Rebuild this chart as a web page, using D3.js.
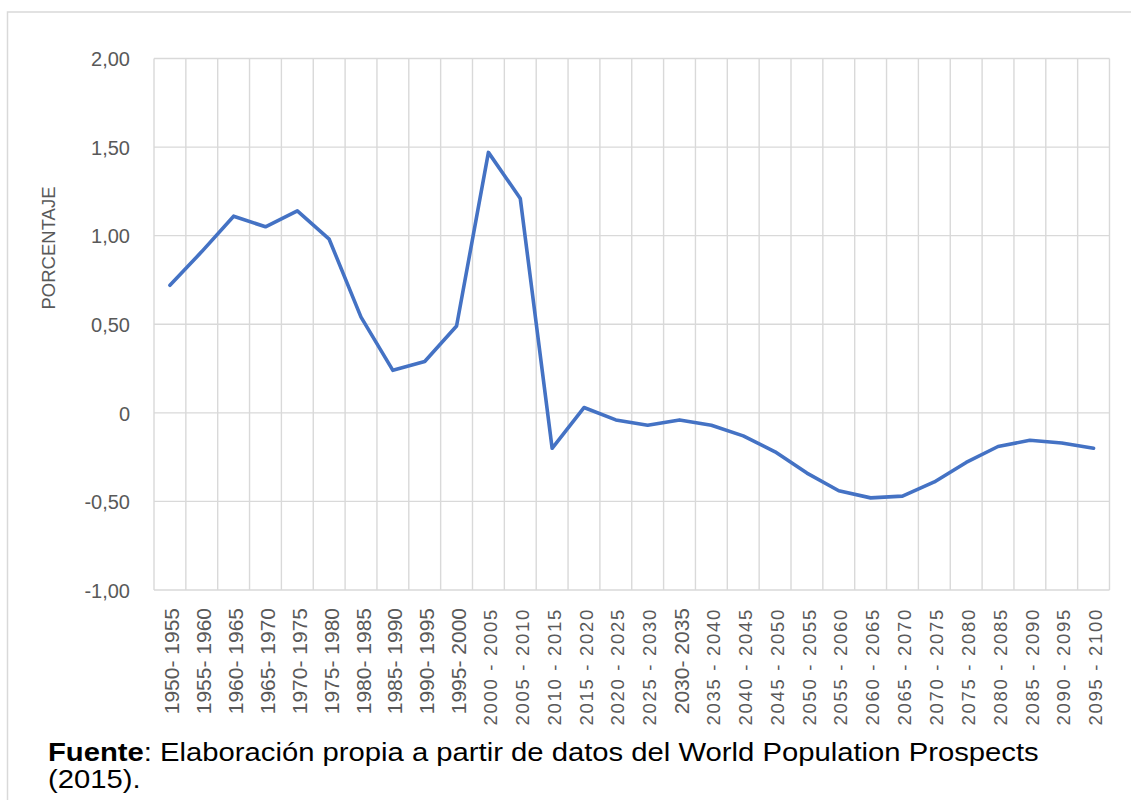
<!DOCTYPE html>
<html>
<head>
<meta charset="utf-8">
<script src="https://cdn.jsdelivr.net/npm/d3@7"></script>
<style>
  html, body { margin: 0; padding: 0; background: #ffffff; }
  svg { display: block; }
</style>
</head>
<body>
<svg id="chart" width="1131" height="800"></svg>
<script>
// Five-year periods shown on the category axis
const periods = [
  "1950- 1955", "1955- 1960", "1960- 1965", "1965- 1970", "1970- 1975",
  "1975- 1980", "1980- 1985", "1985- 1990", "1990- 1995", "1995- 2000",
  "2000 - 2005", "2005 - 2010", "2010 - 2015", "2015 - 2020", "2020 - 2025",
  "2025 - 2030", "2030- 2035", "2035 - 2040", "2040 - 2045", "2045 - 2050",
  "2050 - 2055", "2055 - 2060", "2060 - 2065", "2065 - 2070", "2070 - 2075",
  "2075 - 2080", "2080 - 2085", "2085 - 2090", "2090 - 2095", "2095 - 2100"
];

// Annual rate (percentage) for each period
const rates = [
  0.72, 0.91, 1.11, 1.05, 1.14,
  0.98, 0.54, 0.24, 0.29, 0.49,
  1.47, 1.21, -0.20, 0.03, -0.04,
  -0.07, -0.04, -0.07, -0.13, -0.22,
  -0.34, -0.44, -0.48, -0.47, -0.39,
  -0.28, -0.19, -0.155, -0.17, -0.20
];

// Value-axis ticks and their printed labels
const yTickValues = [-1, -0.5, 0, 0.5, 1, 1.5, 2];
const yTickLabels = ["-1,00", "-0,50", "0", "0,50", "1,00", "1,50", "2,00"];

const svg = d3.select("#chart");
const plot = { left: 154, right: 1109.5, top: 58.5, bottom: 590 };
const font = "'Liberation Sans', Arial, sans-serif";

// Outer chart frame
svg.append("rect")
  .attr("x", 7.5).attr("y", 12)
  .attr("width", 1140).attr("height", 820)
  .attr("fill", "none")
  .attr("stroke", "#d9d9d9")
  .attr("stroke-width", 1.5);

const x = d3.scaleBand()
  .domain(periods)
  .range([plot.left, plot.right])
  .padding(0);

const y = d3.scaleLinear()
  .domain([-1, 2])
  .range([plot.bottom, plot.top]);

const grid = svg.append("g").attr("class", "grid");

// Horizontal gridlines
grid.selectAll("line.h")
  .data(yTickValues)
  .join("line")
  .attr("class", "h")
  .attr("x1", plot.left).attr("x2", plot.right)
  .attr("y1", d => y(d)).attr("y2", d => y(d))
  .attr("stroke", "#d9d9d9")
  .attr("stroke-width", 1.4);

// Vertical gridlines at category boundaries
const boundaries = periods.map(p => x(p)).concat([x(periods[periods.length - 1]) + x.bandwidth()]);
grid.selectAll("line.v")
  .data(boundaries)
  .join("line")
  .attr("class", "v")
  .attr("x1", d => d).attr("x2", d => d)
  .attr("y1", plot.top).attr("y2", plot.bottom)
  .attr("stroke", "#d9d9d9")
  .attr("stroke-width", 1.4);

// Value axis labels
const yAxis = d3.axisLeft(y)
  .tickValues(yTickValues)
  .tickFormat((d, i) => yTickLabels[i])
  .tickSize(0)
  .tickPadding(0);

const yAxisG = svg.append("g")
  .attr("transform", `translate(130,0)`)
  .call(yAxis);
yAxisG.select(".domain").remove();
yAxisG.selectAll("text")
  .attr("fill", "#595959")
  .attr("font-family", font)
  .attr("font-size", "20px")
  .attr("dy", "0.36em");

// Category axis labels, rotated
const xAxis = d3.axisBottom(x).tickSize(0).tickPadding(0);
const xAxisG = svg.append("g")
  .attr("transform", `translate(0,${plot.bottom})`)
  .call(xAxis);
xAxisG.select(".domain").remove();
xAxisG.selectAll(".tick text")
  .attr("fill", "#595959")
  .attr("font-family", font)
  .attr("text-anchor", "end")
  .attr("font-size", d => d.includes(" - ") ? "18.5px" : "21px")
  .attr("letter-spacing", d => d.includes(" - ") ? "1.7px" : "0px")
  .attr("transform", "translate(2,18) rotate(-90)")
  .attr("x", 0)
  .attr("y", 0)
  .attr("dy", "0.36em");

// Axis title
svg.append("text")
  .attr("transform", "translate(55,248) rotate(-90)")
  .attr("text-anchor", "middle")
  .attr("fill", "#595959")
  .attr("font-family", font)
  .attr("font-size", "18.5px")
  .text("PORCENTAJE");

// Data line
const line = d3.line()
  .x((d, i) => x(periods[i]) + x.bandwidth() / 2)
  .y(d => y(d));

svg.append("path")
  .datum(rates)
  .attr("d", line)
  .attr("fill", "none")
  .attr("stroke", "#4472C4")
  .attr("stroke-width", 3.6)
  .attr("stroke-linejoin", "round")
  .attr("stroke-linecap", "round");

// Source note (slightly widened type)
const note = svg.append("g").attr("transform", "translate(48,0) scale(1.125,1)");
const line1 = note.append("text")
  .attr("x", 0)
  .attr("y", 761)
  .attr("fill", "#000000")
  .attr("font-family", font)
  .attr("font-size", "26px");
line1.append("tspan").attr("font-weight", "bold").text("Fuente");
line1.append("tspan").text(": Elaboración propia a partir de datos del World Population Prospects");
note.append("text")
  .attr("x", 0)
  .attr("y", 788)
  .attr("fill", "#000000")
  .attr("font-family", font)
  .attr("font-size", "26px")
  .text("(2015).");
</script>
</body>
</html>
